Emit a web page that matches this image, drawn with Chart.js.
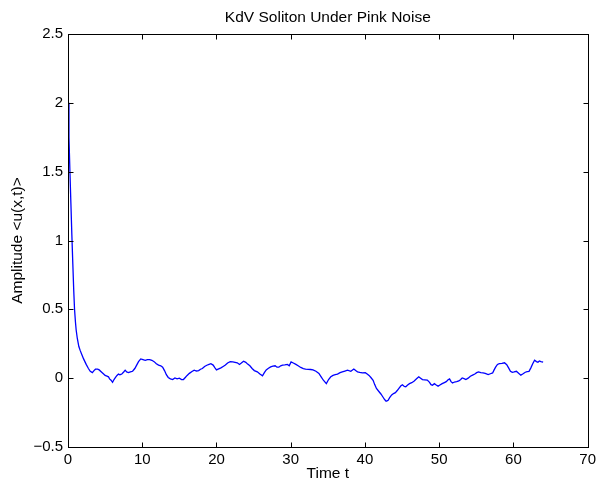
<!DOCTYPE html>
<html>
<head>
<meta charset="utf-8">
<title>KdV Soliton Under Pink Noise</title>
<script src="https://cdn.jsdelivr.net/npm/chart.js@4"></script>
<style>
  html, body { margin: 0; padding: 0; background: #fff; }
  #wrap { width: 600px; height: 487px; position: relative; }
</style>
</head>
<body>
<div id="wrap"><canvas id="curva"></canvas></div>
<script>
// time samples and mean amplitude <u(x,t)>
const tiempo = [
  0.00, 0.13, 0.26, 0.39, 0.52, 0.65, 0.77, 0.88, 1.00, 1.10, 1.25, 1.46, 1.65, 1.87, 2.10, 2.45, 2.75, 3.00, 3.28, 3.50,
  3.70, 4.00, 4.20, 4.50, 4.80, 5.00, 5.25, 5.45, 5.60, 5.80, 6.00, 6.20, 6.40, 6.60, 6.80, 7.00, 7.25, 7.50, 7.70, 7.90,
  8.15, 8.40, 8.70, 9.00, 9.25, 9.50, 9.80, 10.10, 10.40, 10.70, 11.00, 11.30, 11.60, 11.90, 12.20, 12.50, 12.75, 13.00, 13.25, 13.50,
  13.80, 14.10, 14.40, 14.70, 15.00, 15.30, 15.55, 15.80, 16.05, 16.35, 16.70, 17.00, 17.30, 17.60, 17.85, 18.10, 18.40, 18.70, 19.00, 19.25,
  19.55, 19.80, 20.00, 20.30, 20.60, 20.90, 21.20, 21.50, 21.85, 22.20, 22.50, 22.80, 23.10, 23.35, 23.65, 23.95, 24.20, 24.50, 24.80, 25.10,
  25.50, 25.85, 26.20, 26.45, 26.70, 27.00, 27.30, 27.60, 27.90, 28.15, 28.40, 28.65, 28.90, 29.20, 29.55, 29.80, 30.05, 30.35, 30.70, 31.00,
  31.35, 31.70, 32.00, 32.35, 32.70, 33.00, 33.40, 33.80, 34.10, 34.40, 34.80, 35.10, 35.40, 35.70, 36.00, 36.30, 36.65, 36.95, 37.30, 37.65,
  38.10, 38.50, 38.75, 39.00, 39.30, 39.65, 40.05, 40.30, 40.55, 40.80, 41.10, 41.30, 41.55, 41.85, 42.15, 42.40, 42.65, 42.85, 43.10, 43.35,
  43.60, 43.85, 44.10, 44.35, 44.60, 44.85, 45.05, 45.30, 45.50, 45.75, 46.00, 46.30, 46.60, 46.95, 47.25, 47.50, 47.75, 48.05, 48.40, 48.70,
  48.90, 49.10, 49.35, 49.60, 49.85, 50.10, 50.40, 50.70, 50.95, 51.20, 51.40, 51.60, 51.80, 52.05, 52.35, 52.65, 52.90, 53.10, 53.35, 53.60,
  53.90, 54.20, 54.50, 54.80, 55.05, 55.30, 55.60, 55.90, 56.20, 56.60, 56.90, 57.20, 57.40, 57.60, 57.85, 58.10, 58.45, 58.80, 59.10, 59.35,
  59.60, 59.85, 60.10, 60.40, 60.70, 61.00, 61.25, 61.60, 61.85, 62.10, 62.35, 62.60, 62.85, 63.10, 63.30, 63.50, 63.70, 64.00
];

const amplitud = [
  2.00, 1.75, 1.50, 1.27, 1.04, 0.83, 0.64, 0.50, 0.41, 0.35, 0.29, 0.23, 0.20, 0.17, 0.14, 0.10, 0.07, 0.05, 0.04, 0.055,
  0.065, 0.065, 0.06, 0.045, 0.03, 0.02, 0.015, 0.01, -0.005, -0.015, -0.03, -0.01, 0.005, 0.02, 0.03, 0.025, 0.03, 0.045, 0.058, 0.045,
  0.04, 0.045, 0.05, 0.07, 0.095, 0.12, 0.14, 0.135, 0.13, 0.135, 0.135, 0.13, 0.12, 0.105, 0.095, 0.09, 0.08, 0.055, 0.025, 0.005,
  -0.005, -0.01, 0.002, -0.005, 0.0, -0.01, -0.01, 0.005, 0.02, 0.035, 0.048, 0.058, 0.052, 0.055, 0.065, 0.07, 0.085, 0.094, 0.10, 0.105,
  0.095, 0.075, 0.06, 0.068, 0.075, 0.085, 0.095, 0.11, 0.12, 0.118, 0.115, 0.112, 0.10, 0.11, 0.123, 0.115, 0.102, 0.09, 0.07, 0.055,
  0.046, 0.03, 0.017, 0.04, 0.06, 0.072, 0.082, 0.088, 0.09, 0.08, 0.08, 0.09, 0.095, 0.097, 0.10, 0.09, 0.118, 0.11, 0.10, 0.09,
  0.078, 0.07, 0.066, 0.064, 0.063, 0.06, 0.05, 0.035, 0.01, -0.015, -0.04, -0.01, 0.01, 0.02, 0.025, 0.03, 0.04, 0.046, 0.052, 0.058,
  0.05, 0.066, 0.055, 0.046, 0.042, 0.038, 0.04, 0.03, 0.02, 0.005, -0.015, -0.045, -0.075, -0.095, -0.115, -0.135, -0.155, -0.168, -0.162, -0.14,
  -0.122, -0.112, -0.105, -0.09, -0.072, -0.055, -0.048, -0.06, -0.062, -0.05, -0.04, -0.033, -0.022, -0.005, 0.01, 0.0, -0.01, -0.012, -0.014, -0.03,
  -0.047, -0.052, -0.04, -0.05, -0.058, -0.05, -0.04, -0.032, -0.025, -0.012, -0.005, -0.025, -0.035, -0.028, -0.025, -0.02, -0.01, 0.002, -0.003, -0.01,
  0.0, 0.014, 0.022, 0.03, 0.04, 0.045, 0.04, 0.038, 0.035, 0.026, 0.032, 0.038, 0.06, 0.08, 0.10, 0.106, 0.108, 0.112, 0.098, 0.075,
  0.05, 0.042, 0.045, 0.05, 0.035, 0.022, 0.03, 0.043, 0.048, 0.05, 0.075, 0.105, 0.13, 0.12, 0.115, 0.125, 0.12, 0.116
];

const ticksX = [0, 10, 20, 30, 40, 50, 60, 70];
const ticksY = [-0.5, 0, 0.5, 1, 1.5, 2, 2.5];

const fuente = "'Liberation Sans', Arial, Helvetica, sans-serif";

let puntos = [];
for (let i = 0; i < tiempo.length; ++i) {
    puntos.push({ x: tiempo[i], y: amplitud[i] });
}

// closed box with inward ticks on all four sides
const marco = {
    id: 'marco',
    afterDatasetsDraw(chart) {
        const ctx = chart.ctx;
        const a = chart.chartArea;
        const sx = chart.scales.x;
        const sy = chart.scales.y;
        const L = Math.round(a.left) + 0.5;
        const R = Math.round(a.right) + 0.5;
        const T = Math.round(a.top) + 0.5;
        const B = Math.round(a.bottom) + 0.5;
        const largo = 5;
        ctx.save();
        ctx.strokeStyle = '#000';
        ctx.lineWidth = 1;
        ctx.beginPath();
        ticksX.forEach(v => {
            const px = Math.round(sx.getPixelForValue(v)) + 0.5;
            ctx.moveTo(px, B); ctx.lineTo(px, B - largo);
            ctx.moveTo(px, T); ctx.lineTo(px, T + largo);
        });
        ticksY.forEach(v => {
            const py = Math.round(sy.getPixelForValue(v)) + 0.5;
            ctx.moveTo(L, py); ctx.lineTo(L + largo, py);
            ctx.moveTo(R, py); ctx.lineTo(R - largo, py);
        });
        ctx.stroke();
        ctx.strokeRect(L, T, R - L, B - T);
        ctx.restore();
    }
};

const config = {
    type: 'line',
    data: {
        datasets: [{
            label: 'amplitud',
            data: puntos,
            borderColor: 'rgb(0, 0, 255)',
            borderWidth: 1.3,
            pointRadius: 0,
            fill: false,
            tension: 0
        }]
    },
    options: {
        responsive: true,
        maintainAspectRatio: false,
        animation: false,
        devicePixelRatio: 1,
        layout: {
            padding: { left: 0, right: 12, top: 0, bottom: 0 }
        },
        plugins: {
            legend: { display: false },
            tooltip: { enabled: false },
            title: {
                display: true,
                fullSize: false,
                text: 'KdV Soliton Under Pink Noise',
                color: '#000',
                font: { family: fuente, size: 15.5, weight: 'normal' },
                padding: { top: 8, bottom: 7.4 }
            }
        },
        scales: {
            x: {
                type: 'linear',
                min: 0,
                max: 70,
                afterFit: s => { s.height = 40; },
                afterBuildTicks: s => { s.ticks = ticksX.map(v => ({ value: v })); },
                grid: { display: false, drawTicks: false },
                border: { display: false },
                ticks: {
                    color: '#000',
                    padding: 4,
                    maxRotation: 0,
                    font: { family: fuente, size: 15 }
                },
                title: {
                    display: true,
                    text: 'Time t',
                    color: '#000',
                    font: { family: fuente, size: 15.5 },
                    padding: { top: 4 }
                }
            },
            y: {
                type: 'linear',
                min: -0.5,
                max: 2.5,
                afterFit: s => { s.width = 68; },
                afterBuildTicks: s => { s.ticks = ticksY.map(v => ({ value: v })); },
                grid: { display: false, drawTicks: false },
                border: { display: false },
                ticks: {
                    color: '#000',
                    padding: 5,
                    font: { family: fuente, size: 15 },
                    callback: v => String(v).replace('-', '\u2212')
                },
                title: {
                    display: true,
                    text: 'Amplitude <u(x,t)>',
                    color: '#000',
                    font: { family: fuente, size: 15.5 },
                    padding: { top: 8 }
                }
            }
        }
    },
    plugins: [marco]
};

let curva = new Chart(
    document.getElementById('curva'),
    config
);
</script>
</body>
</html>
